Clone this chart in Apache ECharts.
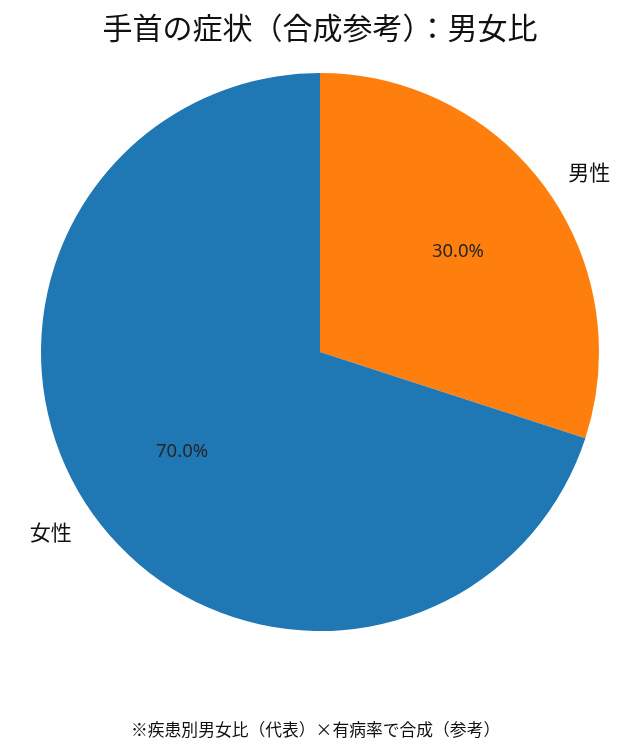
<!DOCTYPE html>
<html><head><meta charset="utf-8">
<script src="https://cdn.jsdelivr.net/npm/echarts@6/dist/echarts.min.js"></script>
<style>html,body{margin:0;padding:0;background:#fff}#c{width:640px;height:753px}</style>
</head><body><div id="c"></div>
<script>
const titleText = '手首の症状（合成参考）：男女比';
const noteText = '※疾患別男女比（代表）×有病率で合成（参考）';
const categories = ['男性', '女性'];
const values = [30, 70];
const colors = ['#ff7f0e', '#1f77b4'];

const font = '"Noto Sans CJK JP", "Noto Sans", sans-serif';
const data = categories.map((c, i) => ({ name: c, value: values[i], itemStyle: { color: colors[i] } }));
const chart = echarts.init(document.getElementById('c'), null, { renderer: 'canvas' });
chart.setOption({
  animation: false,
  backgroundColor: '#fff',
  title: [
    { text: titleText, left: 'center', top: 8, textStyle: { fontFamily: font, fontSize: 30, fontWeight: 'normal', color: '#111' } },
    { text: noteText, left: 126, top: 716, textStyle: { fontFamily: font, fontSize: 16.8, fontWeight: 'normal', color: '#111' } }
  ],
  series: [
    {
      type: 'pie', center: [320, 352], radius: [0, 279], startAngle: 90, clockwise: true,
      avoidLabelOverlap: false, silent: true,
      data: data,
      label: { show: true, position: 'outside', formatter: '{b}', fontFamily: font, fontSize: 21, color: '#111', distanceToLabelLine: 0 },
      labelLine: { show: false, length: 28, length2: 0 },
      emphasis: { disabled: true }
    },
    {
      type: 'pie', center: [320, 352], radius: [56, 279], startAngle: 90, clockwise: true,
      avoidLabelOverlap: false, silent: true,
      data: data.map(d => ({ name: d.name, value: d.value, itemStyle: { color: 'rgba(0,0,0,0)' } })),
      label: { show: true, position: 'inside', formatter: p => p.percent.toFixed(1) + '%', fontFamily: '"Noto Sans", sans-serif', fontSize: 18.5, color: '#262626' },
      labelLine: { show: false },
      emphasis: { disabled: true }
    }
  ]
});
</script></body></html>
